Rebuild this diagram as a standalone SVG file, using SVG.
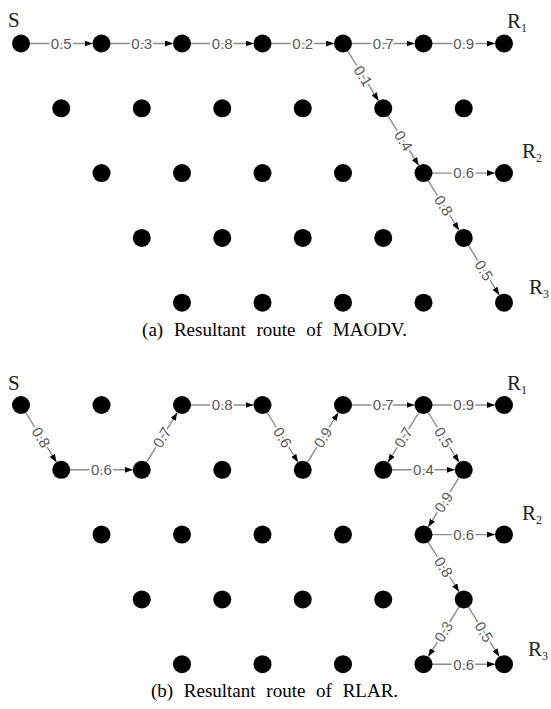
<svg xmlns="http://www.w3.org/2000/svg" width="551" height="709" viewBox="0 0 551 709">
<defs>
<marker id="arr" markerUnits="userSpaceOnUse" markerWidth="9" markerHeight="6" refX="8" refY="3" orient="auto">
<path d="M0,0 L8,3 L0,6 z" fill="#000"/>
</marker>
<style>
.n{fill:#000}
.e{stroke:#8c8c8c;stroke-width:1.4;fill:none;marker-end:url(#arr)}
.l{font-family:"Liberation Sans",Arial,sans-serif;font-size:15px;fill:#595959;text-anchor:middle;stroke:#fff;stroke-width:4;paint-order:stroke;stroke-linejoin:round}
.t{font-family:"Liberation Serif","Times New Roman",serif;font-size:21px;fill:#222}
.s{font-size:12px}
.c{font-family:"Liberation Serif","Times New Roman",serif;font-size:19px;fill:#000;text-anchor:middle;word-spacing:6px}
</style>
</defs>
<rect width="551" height="709" fill="#fff"/>

<!-- top graph connectors -->
<g id="edges-a">
<line class="e" x1="21" y1="43.5" x2="92.5" y2="43.5"/>
<line class="e" x1="101.5" y1="43.5" x2="173" y2="43.5"/>
<line class="e" x1="182" y1="43.5" x2="253.5" y2="43.5"/>
<line class="e" x1="262.5" y1="43.5" x2="334" y2="43.5"/>
<line class="e" x1="343" y1="43.5" x2="414.5" y2="43.5"/>
<line class="e" x1="423.5" y1="43.5" x2="495" y2="43.5"/>
<line class="e" x1="343" y1="43.5" x2="378.5" y2="100.65"/>
<line class="e" x1="383.25" y1="108.3" x2="418.75" y2="165.45"/>
<line class="e" x1="423.5" y1="173.1" x2="495" y2="173.1"/>
<line class="e" x1="423.5" y1="173.1" x2="459" y2="230.25"/>
<line class="e" x1="463.75" y1="237.9" x2="499.25" y2="295.05"/>
<text class="l" x="61.25" y="48.8">0.5</text>
<text class="l" x="141.75" y="48.8">0.3</text>
<text class="l" x="222.25" y="48.8">0.8</text>
<text class="l" x="302.75" y="48.8">0.2</text>
<text class="l" x="383.25" y="48.8">0.7</text>
<text class="l" x="463.75" y="48.8">0.9</text>
<text class="l" transform="translate(363.1,75.9) rotate(58.16)" y="5.3">0.1</text>
<text class="l" transform="translate(403.4,140.7) rotate(58.16)" y="5.3">0.4</text>
<text class="l" x="463.75" y="178.4">0.6</text>
<text class="l" transform="translate(443.6,205.5) rotate(58.16)" y="5.3">0.8</text>
<text class="l" transform="translate(483.9,270.3) rotate(58.16)" y="5.3">0.5</text>
</g>

<!-- top graph nodes -->
<g id="nodes-a">
<g id="a-r0"><circle class="n" cx="21" cy="43.5" r="9"/><circle class="n" cx="101.5" cy="43.5" r="9"/><circle class="n" cx="182" cy="43.5" r="9"/><circle class="n" cx="262.5" cy="43.5" r="9"/><circle class="n" cx="343" cy="43.5" r="9"/><circle class="n" cx="423.5" cy="43.5" r="9"/><circle class="n" cx="504" cy="43.5" r="9"/></g>
<g id="a-r1"><circle class="n" cx="61.25" cy="108.3" r="9"/><circle class="n" cx="141.75" cy="108.3" r="9"/><circle class="n" cx="222.25" cy="108.3" r="9"/><circle class="n" cx="302.75" cy="108.3" r="9"/><circle class="n" cx="383.25" cy="108.3" r="9"/><circle class="n" cx="463.75" cy="108.3" r="9"/></g>
<g id="a-r2"><circle class="n" cx="101.5" cy="173.1" r="9"/><circle class="n" cx="182" cy="173.1" r="9"/><circle class="n" cx="262.5" cy="173.1" r="9"/><circle class="n" cx="343" cy="173.1" r="9"/><circle class="n" cx="423.5" cy="173.1" r="9"/><circle class="n" cx="504" cy="173.1" r="9"/></g>
<g id="a-r3"><circle class="n" cx="141.75" cy="237.9" r="9"/><circle class="n" cx="222.25" cy="237.9" r="9"/><circle class="n" cx="302.75" cy="237.9" r="9"/><circle class="n" cx="383.25" cy="237.9" r="9"/><circle class="n" cx="463.75" cy="237.9" r="9"/></g>
<g id="a-r4"><circle class="n" cx="182" cy="302.7" r="9"/><circle class="n" cx="262.5" cy="302.7" r="9"/><circle class="n" cx="343" cy="302.7" r="9"/><circle class="n" cx="423.5" cy="302.7" r="9"/><circle class="n" cx="504" cy="302.7" r="9"/></g>
<text class="t" x="8" y="27">S</text>
<text class="t" x="507" y="28">R<tspan class="s" dy="4">1</tspan></text>
<text class="t" x="522" y="158">R<tspan class="s" dy="4">2</tspan></text>
<text class="t" x="529" y="294">R<tspan class="s" dy="4">3</tspan></text>
</g>
<text class="c" x="274.5" y="336">(a) Resultant route of MAODV.</text>

<!-- bottom graph connectors -->
<g id="edges-b">
<line class="e" x1="21" y1="405" x2="56.5" y2="462.15"/>
<line class="e" x1="61.25" y1="469.8" x2="132.75" y2="469.8"/>
<line class="e" x1="141.75" y1="469.8" x2="177.25" y2="412.65"/>
<line class="e" x1="182" y1="405" x2="253.5" y2="405"/>
<line class="e" x1="262.5" y1="405" x2="298" y2="462.15"/>
<line class="e" x1="302.75" y1="469.8" x2="338.25" y2="412.65"/>
<line class="e" x1="343" y1="405" x2="414.5" y2="405"/>
<line class="e" x1="423.5" y1="405" x2="495" y2="405"/>
<line class="e" x1="423.5" y1="405" x2="388" y2="462.15"/>
<line class="e" x1="423.5" y1="405" x2="459" y2="462.15"/>
<line class="e" x1="383.25" y1="469.8" x2="454.75" y2="469.8"/>
<line class="e" x1="463.75" y1="469.8" x2="428.25" y2="526.95"/>
<line class="e" x1="423.5" y1="534.6" x2="495" y2="534.6"/>
<line class="e" x1="423.5" y1="534.6" x2="459" y2="591.75"/>
<line class="e" x1="463.75" y1="599.4" x2="428.25" y2="656.55"/>
<line class="e" x1="463.75" y1="599.4" x2="499.25" y2="656.55"/>
<line class="e" x1="423.5" y1="664.2" x2="495" y2="664.2"/>
<text class="l" transform="translate(41.1,437.4) rotate(58.16)" y="5.3">0.8</text>
<text class="l" x="101.5" y="475.1">0.6</text>
<text class="l" transform="translate(161.9,437.4) rotate(-58.16)" y="5.3">0.7</text>
<text class="l" x="222.25" y="410.3">0.8</text>
<text class="l" transform="translate(282.6,437.4) rotate(58.16)" y="5.3">0.6</text>
<text class="l" transform="translate(322.9,437.4) rotate(-58.16)" y="5.3">0.9</text>
<text class="l" x="383.25" y="410.3">0.7</text>
<text class="l" x="463.75" y="410.3">0.9</text>
<text class="l" transform="translate(403.4,437.4) rotate(-58.16)" y="5.3">0.7</text>
<text class="l" transform="translate(443.6,437.4) rotate(58.16)" y="5.3">0.5</text>
<text class="l" x="423.5" y="475.1">0.4</text>
<text class="l" transform="translate(443.6,502.2) rotate(-58.16)" y="5.3">0.9</text>
<text class="l" x="463.75" y="539.9">0.6</text>
<text class="l" transform="translate(443.6,567) rotate(58.16)" y="5.3">0.8</text>
<text class="l" transform="translate(443.6,631.8) rotate(-58.16)" y="5.3">0.3</text>
<text class="l" transform="translate(483.9,631.8) rotate(58.16)" y="5.3">0.5</text>
<text class="l" x="463.75" y="669.5">0.6</text>
</g>

<!-- bottom graph nodes -->
<g id="nodes-b">
<g id="b-r0"><circle class="n" cx="21" cy="405" r="9"/><circle class="n" cx="101.5" cy="405" r="9"/><circle class="n" cx="182" cy="405" r="9"/><circle class="n" cx="262.5" cy="405" r="9"/><circle class="n" cx="343" cy="405" r="9"/><circle class="n" cx="423.5" cy="405" r="9"/><circle class="n" cx="504" cy="405" r="9"/></g>
<g id="b-r1"><circle class="n" cx="61.25" cy="469.8" r="9"/><circle class="n" cx="141.75" cy="469.8" r="9"/><circle class="n" cx="222.25" cy="469.8" r="9"/><circle class="n" cx="302.75" cy="469.8" r="9"/><circle class="n" cx="383.25" cy="469.8" r="9"/><circle class="n" cx="463.75" cy="469.8" r="9"/></g>
<g id="b-r2"><circle class="n" cx="101.5" cy="534.6" r="9"/><circle class="n" cx="182" cy="534.6" r="9"/><circle class="n" cx="262.5" cy="534.6" r="9"/><circle class="n" cx="343" cy="534.6" r="9"/><circle class="n" cx="423.5" cy="534.6" r="9"/><circle class="n" cx="504" cy="534.6" r="9"/></g>
<g id="b-r3"><circle class="n" cx="141.75" cy="599.4" r="9"/><circle class="n" cx="222.25" cy="599.4" r="9"/><circle class="n" cx="302.75" cy="599.4" r="9"/><circle class="n" cx="383.25" cy="599.4" r="9"/><circle class="n" cx="463.75" cy="599.4" r="9"/></g>
<g id="b-r4"><circle class="n" cx="182" cy="664.2" r="9"/><circle class="n" cx="262.5" cy="664.2" r="9"/><circle class="n" cx="343" cy="664.2" r="9"/><circle class="n" cx="423.5" cy="664.2" r="9"/><circle class="n" cx="504" cy="664.2" r="9"/></g>
<text class="t" x="8" y="390">S</text>
<text class="t" x="507" y="390">R<tspan class="s" dy="4">1</tspan></text>
<text class="t" x="522" y="520">R<tspan class="s" dy="4">2</tspan></text>
<text class="t" x="528" y="656">R<tspan class="s" dy="4">3</tspan></text>
</g>
<text class="c" x="274.5" y="697">(b) Resultant route of RLAR.</text>
</svg>
